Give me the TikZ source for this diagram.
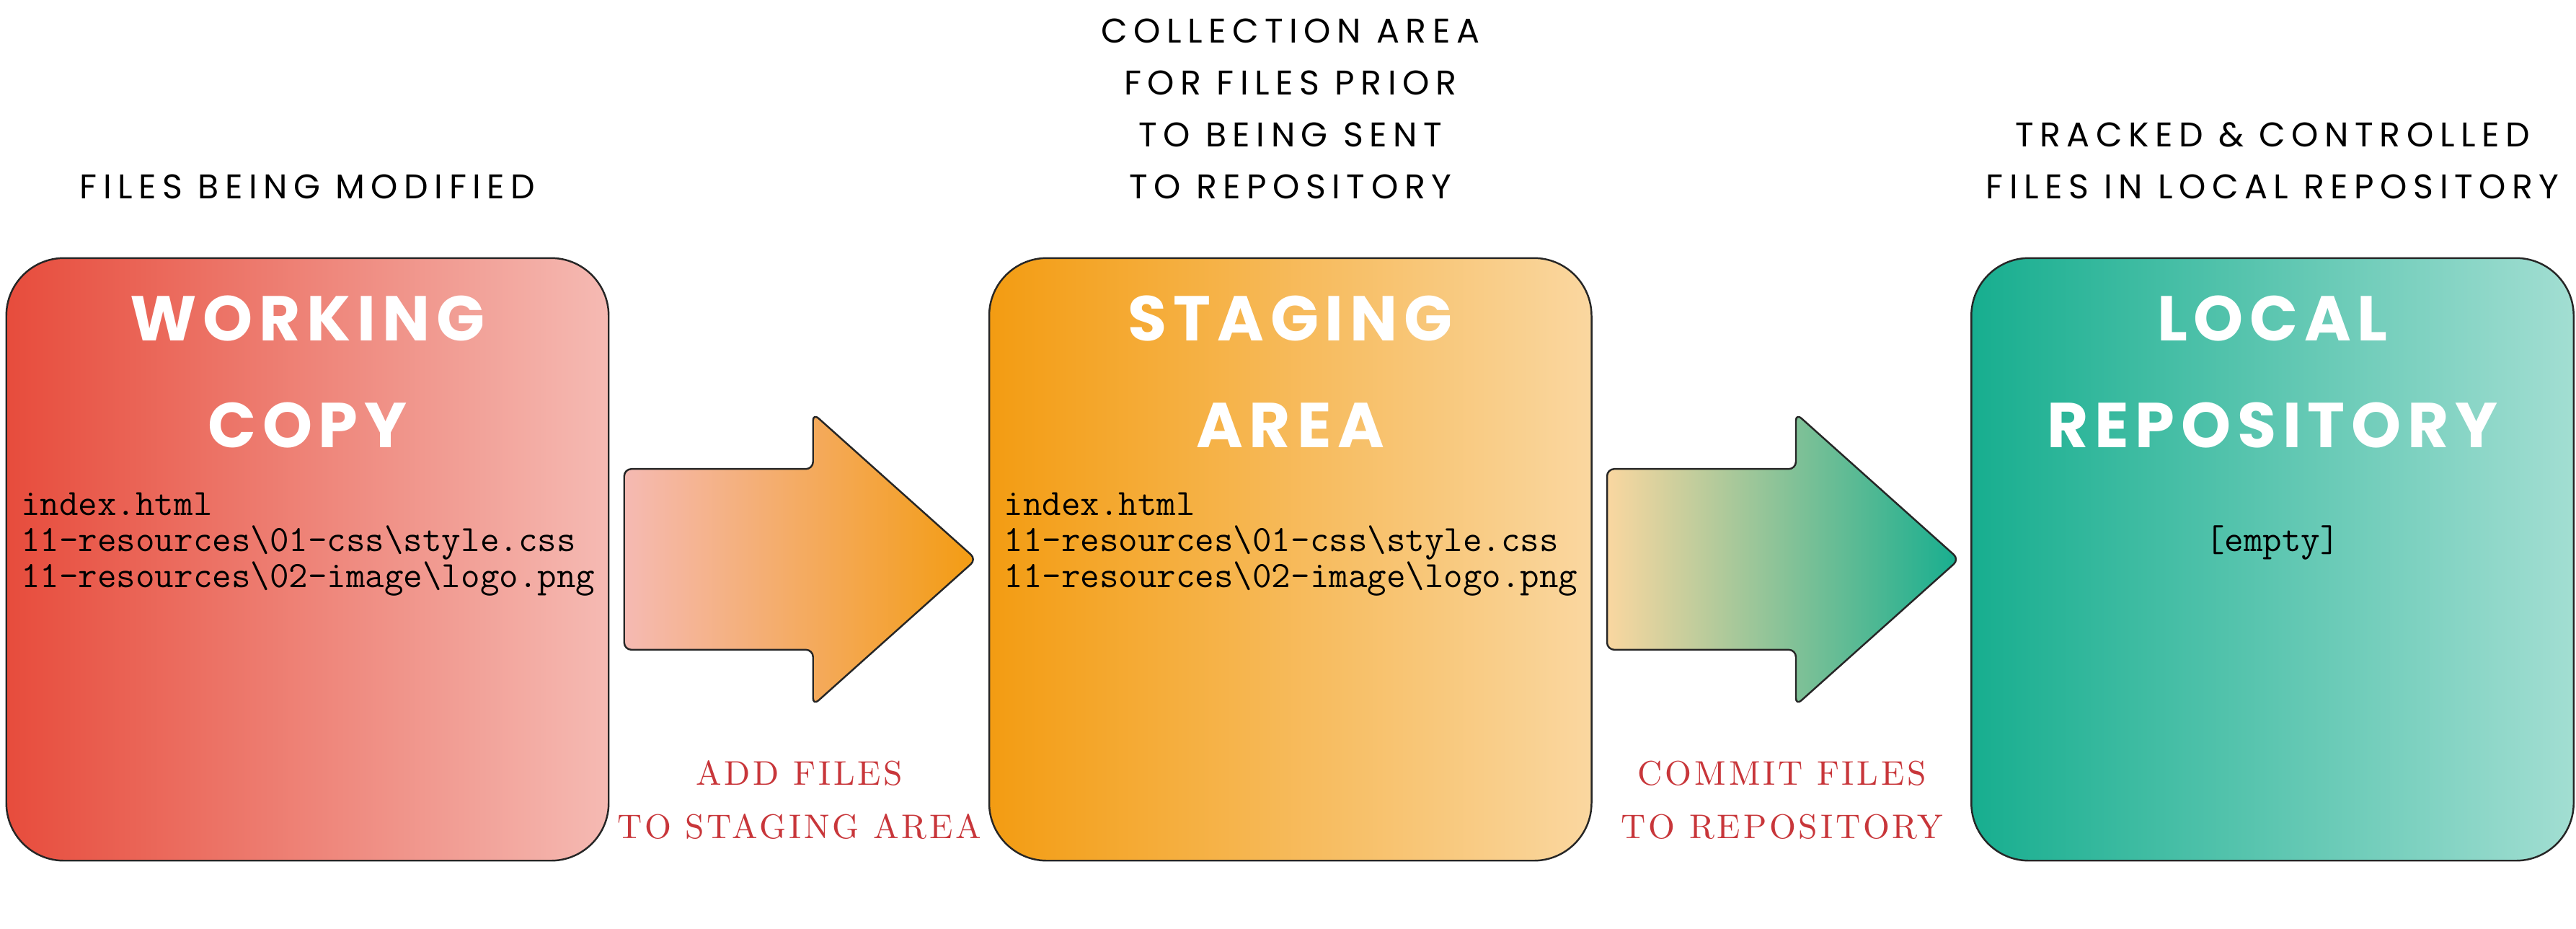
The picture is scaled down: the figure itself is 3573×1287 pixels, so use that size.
\documentclass[tikz,border=0pt]{standalone}
\usepackage{fontspec}
\usepackage{tikz}
\usetikzlibrary{positioning,shapes,arrows}
\newfontfamily\titlefont{Poppins}[LetterSpace=10]
\newfontfamily\notefont{Poppins}[LetterSpace=18]
\newfontfamily\actionfont{lmroman10-regular.otf}[LetterSpace=8]
\definecolor{wcleft}{HTML}{E74C3C}
\definecolor{wcright}{HTML}{F5BAB3}
\definecolor{stageleft}{HTML}{F39C12}
\definecolor{stageright}{HTML}{FAD7A0}
\definecolor{repoleft}{HTML}{17AE8F}
\definecolor{reporight}{HTML}{A2DED2}
\definecolor{actionred}{HTML}{C8363A}

\begin{document}
\begin{tikzpicture}
        [
            x=0.01cm, y=-0.01cm,
            areabox/.style={rectangle, rounded corners=8mm, draw=black!85, line width=0.7pt, minimum width=8.35cm, minimum height=8.35cm, inner sep=0pt},
            blockarrow/.style={single arrow, draw=black!85, line width=0.7pt, minimum height=4.88cm, single arrow head extend=0.77cm, single arrow tip angle=83.6, rounded corners=1mm, inner xsep=0pt, inner ysep=1.24cm},
            boxtitle/.style={text=white, font=\titlefont\bfseries\fontsize{25}{42}\selectfont, align=center, anchor=base, inner sep=0pt},
            filelist/.style={font=\ttfamily\fontsize{14.65}{14.2}\selectfont, align=left, anchor=base west, inner sep=0pt},
            areanote/.style={font=\notefont\fontsize{13.5}{20.5}\selectfont, align=center, anchor=base, inner sep=0pt},
            actionnote/.style={text=actionred, font=\actionfont\fontsize{13.5}{21}\selectfont, align=center, anchor=base, inner sep=0pt},
        ]
        \useasboundingbox (0,0) rectangle (3573,1287);

        %Boxes
        \node[areabox, left color=wcleft, right color=wcright]          (working)                           at (426.5,775.5)    {};
        \node[areabox, left color=stageleft, right color=stageright]    (staging)       [right=5.25cm of working]               {};
        \node[areabox, left color=repoleft, right color=reporight]      (repository)    [right=5.24cm of staging]               {};

        %Arrows
        \node[blockarrow, left color=wcright, right color=stageleft]    (addarrow)      [right=1.9mm of working]                {};
        \node[blockarrow, left color=stageright, right color=repoleft]  (commitarrow)   [right=1.9mm of staging]                {};

        %Titles
        \node[boxtitle]     (workingtitle)      at ([yshift=-2.64cm]working.north)      {WORKING\\COPY};
        \node[boxtitle]     (stagingtitle)      at ([yshift=-2.64cm]staging.north)      {STAGING\\AREA};
        \node[boxtitle]     (repositorytitle)   at ([yshift=-2.64cm]repository.north)   {LOCAL\\REPOSITORY};

        %Files
        \node[filelist]     (workingfiles)      at ([xshift=2.1mm, yshift=-4.58cm]working.north west)
            {index.html\\11-resources\textbackslash 01-css\textbackslash style.css\\11-resources\textbackslash 02-image\textbackslash logo.png};
        \node[filelist]     (stagingfiles)      at ([xshift=2.1mm, yshift=-4.58cm]staging.north west)
            {index.html\\11-resources\textbackslash 01-css\textbackslash style.css\\11-resources\textbackslash 02-image\textbackslash logo.png};
        \node[filelist, anchor=base] (repositoryfiles) at ([yshift=-4.08cm]repository.north) {[empty]};

        %Notes
        \node[areanote]     (workingnote)       at ([yshift=0.81cm]working.north)       {FILES BEING MODIFIED};
        \node[areanote]     (stagingnote)       at ([yshift=0.81cm]staging.north)       {COLLECTION AREA\\FOR FILES PRIOR\\TO BEING SENT\\TO REPOSITORY};
        \node[areanote]     (repositorynote)    at ([yshift=0.81cm]repository.north)    {TRACKED \& CONTROLLED\\FILES IN LOCAL REPOSITORY};
        \node[actionnote]   (addnote)           at ([xshift=2.44cm, yshift=-3.87cm]addarrow.west)    {ADD FILES\\TO STAGING AREA};
        \node[actionnote]   (commitnote)        at ([xshift=2.44cm, yshift=-3.87cm]commitarrow.west) {COMMIT FILES\\TO REPOSITORY};
    \end{tikzpicture}
\end{document}
